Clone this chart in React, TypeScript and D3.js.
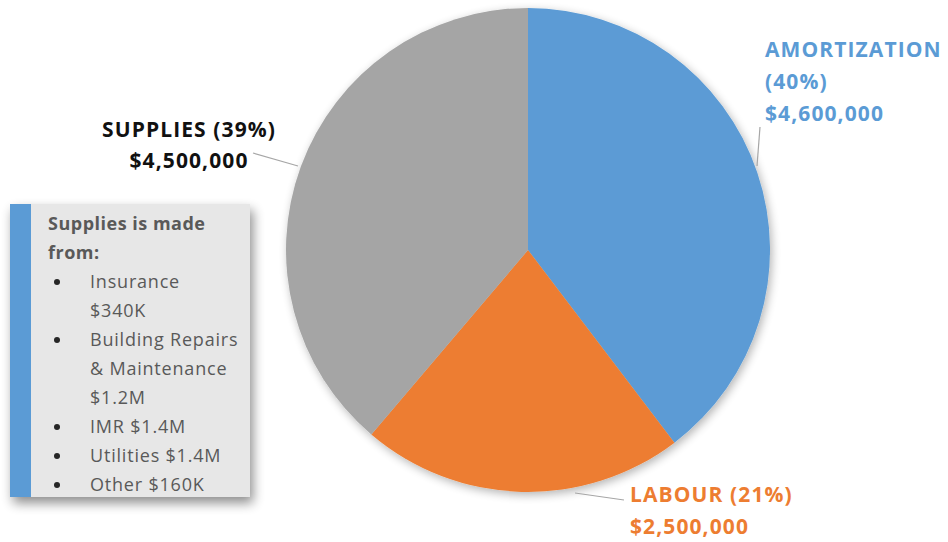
import React from "react";
import * as d3 from "d3";

const categories = ["AMORTIZATION", "LABOUR", "SUPPLIES"];
const values = [4600000, 2500000, 4500000];
const percentLabels = ["40%", "21%", "39%"];
const colors = ["#5b9bd5", "#ed7d31", "#a5a5a5"];
const noteTitle = ["Supplies is made", "from:"];
const noteItems = [
  ["Insurance", "$340K"],
  ["Building Repairs", "& Maintenance", "$1.2M"],
  ["IMR $1.4M"],
  ["Utilities $1.4M"],
  ["Other $160K"],
];

const W = 948, H = 542;
const cx = 528, cy = 250, R = 242;
const fmt = d3.format("$,");

export default function App() {
  const pie = d3.pie<number>().sort(null).value((d) => d);
  const arcs = pie(values);
  const arcGen = d3.arc<d3.PieArcDatum<number>>().innerRadius(0).outerRadius(R);

  const font = "'Open Sans', sans-serif";
  let line = 0;
  const lineH = 29;
  const noteY0 = 230;

  return (
    <svg width={W} height={H} style={{ position: "absolute", left: 0, top: 0, background: "#fff" }} fontFamily={font}>
      <defs>
        <filter id="sh" x="-20%" y="-20%" width="140%" height="140%">
          <feGaussianBlur in="SourceAlpha" stdDeviation="5" />
          <feOffset dx="2" dy="3" result="b" />
          <feComponentTransfer><feFuncA type="linear" slope="0.3" /></feComponentTransfer>
          <feMerge><feMergeNode /><feMergeNode in="SourceGraphic" /></feMerge>
        </filter>
        <filter id="sh2" x="-20%" y="-20%" width="140%" height="140%">
          <feGaussianBlur in="SourceAlpha" stdDeviation="6" />
          <feOffset dx="3" dy="6" result="b" />
          <feComponentTransfer><feFuncA type="linear" slope="0.45" /></feComponentTransfer>
          <feMerge><feMergeNode /><feMergeNode in="SourceGraphic" /></feMerge>
        </filter>
      </defs>
      <g transform={`translate(${cx},${cy})`} filter="url(#sh)">
        {arcs.map((a, i) => (
          <path key={i} d={arcGen(a) || ""} fill={colors[i]} />
        ))}
      </g>
      {/* leader lines */}
      <g stroke="#a6a6a6" strokeWidth={1.2} fill="none">
        <polyline points="760,127 757,166" />
        <polyline points="575,493 624,500" />
        <polyline points="253,153 298,166" />
      </g>
      {/* labels */}
      <g fontWeight="bold" fontSize={21} letterSpacing={1.1}>
        <text x={765} y={57} fill={colors[0]}>{categories[0]}</text>
        <text x={765} y={89} fill={colors[0]}>({percentLabels[0]})</text>
        <text x={765} y={121} fill={colors[0]}>{fmt(values[0])}</text>
        <text x={630} y={502} fill={colors[1]}>{`${categories[1]} (${percentLabels[1]})`}</text>
        <text x={630} y={534} fill={colors[1]}>{fmt(values[1])}</text>
        <text x={189} y={137} fill="#111" textAnchor="middle">{`${categories[2]} (${percentLabels[2]})`}</text>
        <text x={189} y={168} fill="#111" textAnchor="middle">{fmt(values[2])}</text>
      </g>
      {/* note box */}
      <g filter="url(#sh2)">
        <rect x={10} y={204} width={240} height={293} fill="#e7e7e7" />
      </g>
      <rect x={10} y={204} width={21} height={293} fill="#5b9bd5" />
      <g fontSize={18} fill="#595959">
        {noteTitle.map((t) => {
          const y = noteY0 + lineH * line++;
          return <text key={t} x={48} y={y} fontWeight="bold" letterSpacing={0.5}>{t}</text>;
        })}
        {noteItems.map((item, k) => (
          <g key={k}>
            {item.map((t, j) => {
              const y = noteY0 + lineH * line++;
              return (
                <g key={j}>
                  {j === 0 && <circle cx={57} cy={y - 6} r={3} fill="#262626" />}
                  <text x={90} y={y} letterSpacing={0.8}>{t}</text>
                </g>
              );
            })}
          </g>
        ))}
      </g>
    </svg>
  );
}
